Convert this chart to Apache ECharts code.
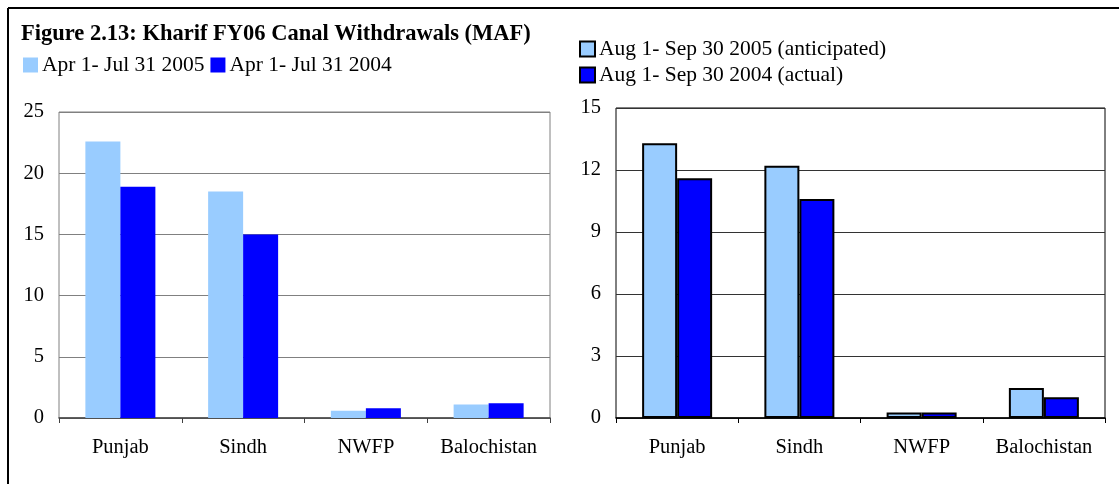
<!DOCTYPE html>
<html>
<head>
<meta charset="utf-8">
<title>Kharif FY06 Canal Withdrawals</title>
<script src="https://cdn.jsdelivr.net/npm/echarts@6/dist/echarts.min.js"></script>
<style>
  html, body { margin: 0; padding: 0; background: #fff; }
  #chart { width: 1119px; height: 484px; }
</style>
</head>
<body>
<div id="chart"></div>
<script type="text/javascript">
// provinces, same for both panels
var provinces = ["Punjab", "Sindh", "NWFP", "Balochistan"];

// left panel (MAF)
var earlyNames = ["Apr 1- Jul 31 2005", "Apr 1- Jul 31 2004"];
var early2005 = [22.6, 18.5, 0.6, 1.1];
var early2004 = [18.9, 15.0, 0.8, 1.2];

// right panel (MAF)
var lateNames = ["Aug 1- Sep 30 2005 (anticipated)", "Aug 1- Sep 30 2004 (actual)"];
var late2005 = [13.3, 12.2, 0.27, 1.45];
var late2004 = [11.6, 10.6, 0.27, 1.0];

var serif = "'Liberation Serif', 'Times New Roman', serif";
var lightBlue = "#99ccff";
var deepBlue = "#0000ff";

var chart = echarts.init(document.getElementById("chart"), null, { renderer: "canvas" });

function xAxisFor(gridIndex, lineColor) {
  return {
    type: "category",
    gridIndex: gridIndex,
    data: provinces,
    boundaryGap: true,
    axisLine: { show: true, lineStyle: { color: lineColor, width: 1.5 } },
    axisTick: { show: true, alignWithLabel: false, interval: 0, length: 5, lineStyle: { color: lineColor, width: 1 } },
    axisLabel: { interval: 0, color: "#000", fontFamily: serif, fontSize: 20.5, margin: 19 },
    splitLine: { show: false }
  };
}

function yAxisFor(gridIndex, max, step, splitColor) {
  return {
    type: "value",
    gridIndex: gridIndex,
    min: 0,
    max: max,
    interval: step,
    axisLine: { show: false },
    axisTick: { show: false },
    axisLabel: { color: "#000", fontFamily: serif, fontSize: 20.5, margin: 15 },
    splitLine: { show: true, lineStyle: { color: splitColor, width: 1 } }
  };
}

chart.setOption({
  animation: false,
  title: {
    text: "Figure 2.13: Kharif FY06 Canal Withdrawals (MAF)",
    left: 21,
    top: 23,
    padding: 0,
    textStyle: { fontFamily: serif, fontWeight: "bold", fontSize: 22.5, color: "#000" }
  },
  legend: [
    {
      data: earlyNames,
      orient: "horizontal",
      left: 23,
      top: 54,
      padding: 0,
      itemWidth: 15,
      itemHeight: 15,
      itemGap: 6,
      icon: "rect",
      selectedMode: false,
      textStyle: { fontFamily: serif, fontSize: 21.5, color: "#000", padding: [0, 0, 0, -1] }
    },
    {
      data: lateNames,
      orient: "vertical",
      left: 579,
      top: 38,
      padding: 0,
      itemWidth: 15,
      itemHeight: 15,
      itemGap: 4,
      icon: "rect",
      selectedMode: false,
      textStyle: { fontFamily: serif, fontSize: 21.5, color: "#000", padding: [0, 0, 0, -1] }
    }
  ],
  grid: [
    { left: 59, top: 112, width: 491, height: 306, show: true, borderColor: "#808080", borderWidth: 1, containLabel: false },
    { left: 616, top: 108, width: 489, height: 310, show: true, borderColor: "#000", borderWidth: 1, containLabel: false }
  ],
  xAxis: [xAxisFor(0, "#404040"), xAxisFor(1, "#000")],
  yAxis: [yAxisFor(0, 25, 5, "#808080"), yAxisFor(1, 15, 3, "#333")],
  series: [
    {
      name: earlyNames[0], type: "bar", xAxisIndex: 0, yAxisIndex: 0,
      data: early2005, barWidth: 35, barGap: "0%",
      itemStyle: { color: lightBlue }
    },
    {
      name: earlyNames[1], type: "bar", xAxisIndex: 0, yAxisIndex: 0,
      data: early2004, barWidth: 35, barGap: "0%",
      itemStyle: { color: deepBlue }
    },
    {
      name: lateNames[0], type: "bar", xAxisIndex: 1, yAxisIndex: 1,
      data: late2005, barWidth: 35, barGap: "0%",
      itemStyle: { color: lightBlue, borderColor: "#000", borderWidth: 2 }
    },
    {
      name: lateNames[1], type: "bar", xAxisIndex: 1, yAxisIndex: 1,
      data: late2004, barWidth: 35, barGap: "0%",
      itemStyle: { color: deepBlue, borderColor: "#000", borderWidth: 2 }
    }
  ],
  // outer frame of the figure (top and left edges show in the crop)
  graphic: [
    { type: "line", shape: { x1: 8, y1: 8, x2: 1119, y2: 8 }, style: { stroke: "#000", lineWidth: 2 } },
    { type: "line", shape: { x1: 8, y1: 8, x2: 8, y2: 484 }, style: { stroke: "#000", lineWidth: 2 } }
  ]
});
</script>
</body>
</html>
